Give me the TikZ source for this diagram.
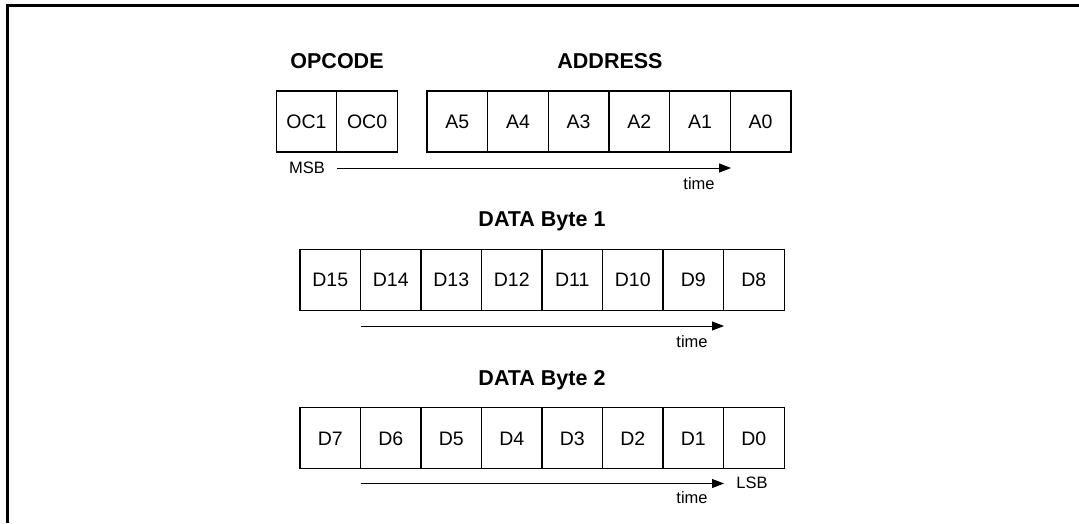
\documentclass[tikz,border=0pt]{standalone}
\usepackage{fontspec}
\setmainfont{Liberation Sans}
\usetikzlibrary{arrows.meta}
\begin{document}
\begin{tikzpicture}[x=1pt,y=-1pt,
  bitbox/.style={draw,line width=1.2pt,minimum width=60.6pt,minimum height=61pt,inner sep=0pt,text height=14pt,text depth=0pt,font=\fontsize{19.5}{21}\selectfont},
  headlabel/.style={font=\bfseries\fontsize{21.5}{23}\selectfont,inner sep=0pt},
  smalllabel/.style={font=\fontsize{16.5}{18}\selectfont,inner sep=0pt},
  timearrow/.style={line width=0.9pt,-{Triangle[length=12pt,width=9pt]}},
  frameline/.style={line width=2.5pt}]
\useasboundingbox (0,0) rectangle (1079,523);
% frame
\coordinate (fr1) at (1079,5.5);
\coordinate (fr2) at (7.5,5.5);
\coordinate (fr3) at (7.5,523);
\draw[frameline] (fr1) -- (fr2) -- (fr3);
% headings
\node[headlabel] (opcode) at (337,61) {OPCODE};
\node[headlabel] (address) at (610,61) {ADDRESS};
\node[headlabel] (data1) at (542,221) {DATA Byte 1};
\node[headlabel] (data2) at (542,380) {DATA Byte 2};
% opcode boxes
\node[bitbox] (oc1) at (306.5,121.5) {OC1};
\node[bitbox] (oc0) at (367.1,121.5) {OC0};
% address boxes
\foreach \n [count=\i from 0] in {5,4,3,2,1,0}
  \node[bitbox] (a\n) at ({457.3+60.67*\i},121.5) {A\n};
% data byte 1
\foreach \n [count=\i from 0] in {15,14,13,12,11,10,9,8}
  \node[bitbox] (d\n) at ({330.3+60.5*\i},279.7) {D\n};
% data byte 2
\foreach \n [count=\i from 0] in {7,6,5,4,3,2,1,0}
  \node[bitbox] (d\n) at ({330.3+60.5*\i},438) {D\n};
% arrow 1
\node[smalllabel] (msb) at (307,168) {MSB};
\coordinate (t1s) at (337,168);
\coordinate (t1e) at (731,168);
\draw[timearrow] (t1s) -- (t1e);
\node[smalllabel] (time1) at (699,184) {time};
% arrow 2
\coordinate (t2s) at (360.7,326);
\coordinate (t2e) at (724,326);
\draw[timearrow] (t2s) -- (t2e);
\node[smalllabel] (time2) at (692,342) {time};
% arrow 3
\coordinate (t3s) at (360.7,483.5);
\coordinate (t3e) at (724,483.5);
\draw[timearrow] (t3s) -- (t3e);
\node[smalllabel] (time3) at (692,498) {time};
\node[smalllabel] (lsb) at (752,483) {LSB};
\end{tikzpicture}
\end{document}
